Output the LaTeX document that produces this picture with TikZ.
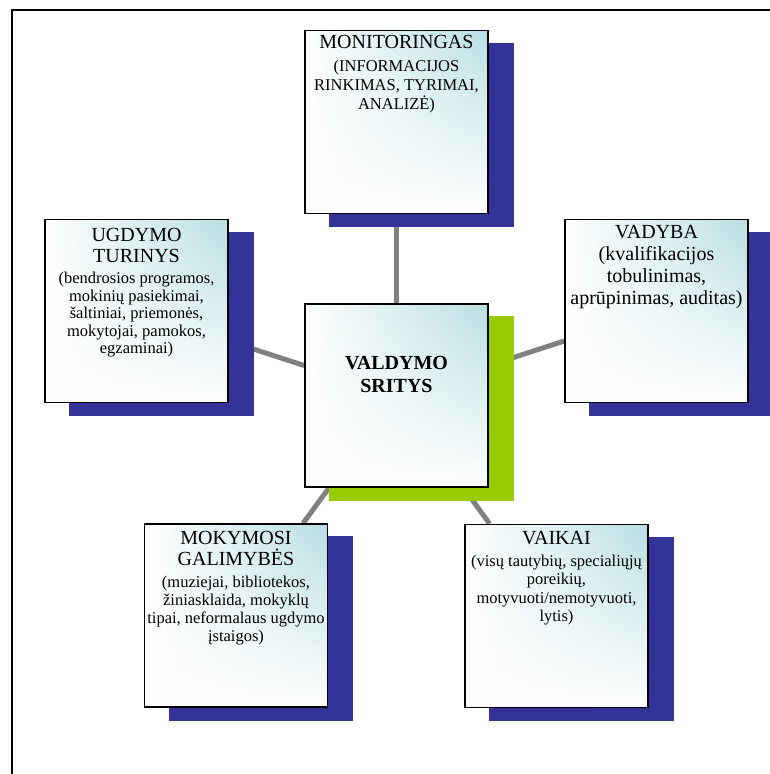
\documentclass[tikz,border=0pt]{standalone}
\usepackage{fontspec}
\setmainfont{Liberation Serif}
\usetikzlibrary{fadings,calc}
\definecolor{navy}{RGB}{51,51,153}
\definecolor{lime}{RGB}{153,204,0}
\definecolor{aqua}{RGB}{185,223,227}
\definecolor{conn}{RGB}{128,128,128}
\tikzfading[name=fadebottom, top color=transparent!100, bottom color=transparent!0]
\pgfdeclarelayer{bg}
\pgfdeclarelayer{shadowlayer}
\pgfsetlayers{bg,shadowlayer,main}
\newcommand\bxt[6]{\parbox[t]{240pt}{\centering\fontsize{20}{#1}\selectfont #2\par\vspace{#3}\fontsize{#4}{#5}\selectfont #6\par}}
\tikzset{
  box/.style={rectangle, minimum width=183pt, minimum height=183pt, inner sep=0pt,
    draw=black, line width=1.6pt, left color=white, right color=aqua,
    path picture={\fill[white, path fading=fadebottom] (path picture bounding box.south west) rectangle (path picture bounding box.north east);}},
  txt/.style={anchor=base, inner sep=0pt, text=black},
  connector/.style={draw=conn, line width=5pt},
  frame/.style={draw=black, line width=2pt}
}
\newcommand\shadowof[2]{\fill[#2] ($(#1.north west)+(25,13)$) rectangle ($(#1.south east)+(25,13)$);}
\begin{document}
\begin{tikzpicture}[x=1pt,y=-1pt]
\useasboundingbox (0,0) rectangle (769,774);
\draw[frame] (12,800) -- (12,10) -- (800,10);
% boxes
\node[box] (mon) at (396.5,122) {};
\node[box] (ugd) at (136.5,311) {};
\node[box] (vad) at (656.5,311) {};
\node[box] (cen) at (396.5,395.5) {};
\node[box] (mok) at (236,615.5) {};
\node[box] (vai) at (556.5,616) {};
% shadows
\begin{pgfonlayer}{shadowlayer}
\shadowof{mon}{navy}
\shadowof{ugd}{navy}
\shadowof{vad}{navy}
\shadowof{mok}{navy}
\shadowof{vai}{navy}
\shadowof{cen}{lime}
\end{pgfonlayer}
% connectors
\begin{pgfonlayer}{bg}
\draw[connector] (cen) -- (mon);
\draw[connector] (cen) -- (ugd);
\draw[connector] (cen) -- (vad);
\draw[connector] (cen) -- (mok);
\draw[connector] (cen) -- (vai);
\end{pgfonlayer}
% texts
\node[txt] (tmon) at ([yshift=-18.3pt]mon.north) {\bxt{22}{MONITORINGAS}{4.7pt}{16.5}{19}{(INFORMACIJOS\\RINKIMAS, TYRIMAI,\\ANALIZĖ)}};
\node[txt] (tugd) at ([yshift=-22.7pt]ugd.north) {\bxt{20.6}{UGDYMO\\TURINYS}{4.2pt}{16.5}{17.5}{(bendrosios programos,\\mokinių pasiekimai,\\šaltiniai, priemonės,\\mokytojai, pamokos,\\egzaminai)}};
\node[txt] (tvad) at ([yshift=-19.3pt]vad.north) {\bxt{22}{VADYBA}{0pt}{20}{22}{(kvalifikacijos\\tobulinimas,\\aprūpinimas, auditas)}};
\node[txt] (tcen) at ([yshift=-66pt]cen.north) {\parbox[t]{240pt}{\centering\bfseries\fontsize{20}{23.4}\selectfont VALDYMO\\SRITYS}};
\node[txt] (tmok) at ([yshift=-21pt]mok.north) {\bxt{21}{MOKYMOSI\\GALIMYBĖS}{4.3pt}{16.5}{18}{(muziejai, bibliotekos,\\žiniasklaida, mokyklų\\tipai, neformalaus ugdymo\\įstaigos)}};
\node[txt] (tvai) at ([yshift=-21pt]vai.north) {\bxt{21}{VAIKAI}{3.2pt}{16.5}{18.5}{(visų tautybių, specialiųjų\\poreikių,\\motyvuoti/nemotyvuoti,\\lytis)}};
\end{tikzpicture}
\end{document}
